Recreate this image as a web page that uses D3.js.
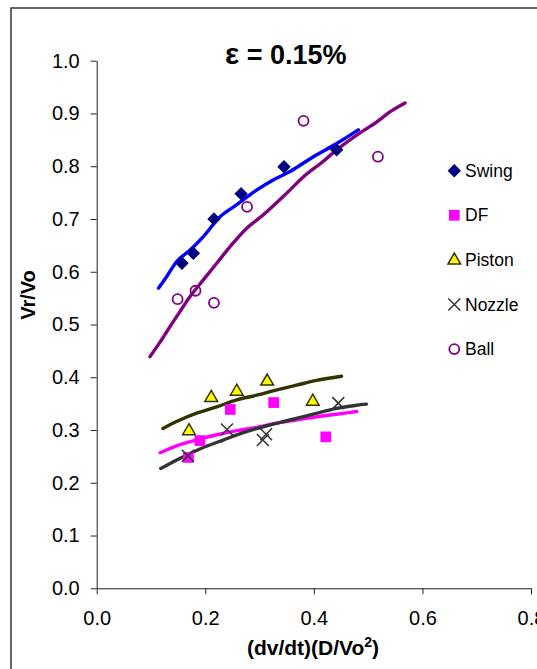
<!DOCTYPE html>
<html>
<head>
<meta charset="utf-8">
<script src="https://cdn.jsdelivr.net/npm/d3@7"></script>
<style>
  body { margin: 0; background: #fff; }
  svg { display: block; font-family: "Liberation Sans", Arial, sans-serif; }
</style>
</head>
<body>
<svg width="537" height="669"></svg>
<script>
// measured points, [x, y]
const swingPts = [[0.157, 0.616], [0.178, 0.635], [0.216, 0.700], [0.266, 0.748], [0.345, 0.799], [0.442, 0.831]];
const dfPts = [[0.169, 0.248], [0.190, 0.280], [0.246, 0.339], [0.326, 0.352], [0.422, 0.287]];
const pistonPts = [[0.170, 0.299], [0.211, 0.362], [0.258, 0.374], [0.314, 0.393], [0.398, 0.355]];
const nozzlePts = [[0.168, 0.251], [0.240, 0.301], [0.306, 0.281], [0.312, 0.292], [0.445, 0.351]];
const ballPts = [[0.149, 0.548], [0.182, 0.564], [0.216, 0.541], [0.277, 0.723], [0.381, 0.886], [0.518, 0.818]];

// trend lines
const swingLine = [[0.114, 0.569], [0.129, 0.591], [0.147, 0.619], [0.172, 0.641], [0.196, 0.666], [0.227, 0.704],
  [0.258, 0.727], [0.295, 0.755], [0.325, 0.774], [0.356, 0.790], [0.399, 0.818], [0.442, 0.843], [0.482, 0.869]];
const ballLine = [[0.098, 0.439], [0.117, 0.467], [0.135, 0.496], [0.153, 0.524], [0.172, 0.553], [0.196, 0.584],
  [0.221, 0.616], [0.246, 0.648], [0.276, 0.682], [0.307, 0.708], [0.350, 0.749], [0.381, 0.780], [0.417, 0.809],
  [0.442, 0.831], [0.479, 0.859], [0.516, 0.884], [0.540, 0.903], [0.568, 0.920]];
const pistonLine = [[0.122, 0.303], [0.147, 0.316], [0.184, 0.332], [0.221, 0.344], [0.258, 0.357], [0.295, 0.366],
  [0.332, 0.376], [0.368, 0.385], [0.405, 0.394], [0.451, 0.402]];
const dfLine = [[0.117, 0.257], [0.147, 0.270], [0.184, 0.281], [0.221, 0.291], [0.258, 0.299], [0.295, 0.305],
  [0.332, 0.313], [0.368, 0.319], [0.405, 0.325], [0.442, 0.330], [0.479, 0.335]];
const nozzleLine = [[0.118, 0.227], [0.153, 0.246], [0.190, 0.264], [0.233, 0.281], [0.270, 0.295], [0.313, 0.308],
  [0.356, 0.319], [0.399, 0.330], [0.442, 0.341], [0.479, 0.347], [0.497, 0.349]];

const xTicks = [0, 0.2, 0.4, 0.6, 0.8];
const yTicks = [0, 0.1, 0.2, 0.3, 0.4, 0.5, 0.6, 0.7, 0.8, 0.9, 1.0];
const legendNames = ["Swing", "DF", "Piston", "Nozzle", "Ball"];

const svg = d3.select("svg");

// outer frame
svg.append("rect")
  .attr("x", 11).attr("y", 8).attr("width", 700).attr("height", 800)
  .attr("fill", "none").attr("stroke", "#333").attr("stroke-width", 1.5);

const x = d3.scaleLinear().domain([0, 0.8]).range([96.7, 531]);
const y = d3.scaleLinear().domain([0, 1]).range([588.3, 60.7]);

const yAxis = svg.append("g")
  .attr("transform", "translate(96.7,0)")
  .call(d3.axisLeft(y).tickValues(yTicks).tickFormat(d3.format(".1f")).tickSize(6).tickPadding(11).tickSizeOuter(0));
const xAxis = svg.append("g")
  .attr("transform", "translate(0,588.3)")
  .call(d3.axisBottom(x).tickValues(xTicks).tickFormat(d3.format(".1f")).tickSize(6).tickPadding(17).tickSizeOuter(0));

[xAxis, yAxis].forEach(g => {
  g.select(".domain").attr("stroke", "#222");
  g.selectAll(".tick line").attr("stroke", "#222");
  g.selectAll("text").attr("font-size", 20).attr("fill", "#000")
    .attr("font-family", "'Liberation Sans', Arial, sans-serif");
});

// titles
svg.append("text").attr("x", 225).attr("y", 64)
  .attr("font-size", 27).attr("font-weight", "bold")
  .html("<tspan font-size='30'>ε</tspan> = 0.15%");
svg.append("text").attr("x", 313).attr("y", 655).attr("text-anchor", "middle")
  .attr("font-size", 21).attr("font-weight", "bold")
  .html("(dv/dt)(D/Vo<tspan font-size='14' dy='-8'>2</tspan><tspan dy='8'>)</tspan>");
svg.append("text").attr("transform", "translate(35,295) rotate(-90)").attr("text-anchor", "middle")
  .attr("font-size", 20).attr("font-weight", "bold").text("Vr/Vo");

// trend lines
const line = d3.line().x(d => x(d[0])).y(d => y(d[1])).curve(d3.curveMonotoneX);
const lines = [
  [swingLine, "#0000ff"], [ballLine, "#800080"], [pistonLine, "#333300"],
  [dfLine, "#ff00ff"], [nozzleLine, "#333333"]
];
lines.forEach(([pts, col]) => {
  svg.append("path").datum(pts).attr("d", line)
    .attr("fill", "none").attr("stroke", col).attr("stroke-width", 3.4)
    .attr("stroke-linecap", "round").attr("stroke-linejoin", "round");
});

// marker drawers
const markers = {
  Swing: g => g.append("path").attr("d", d3.symbol(d3.symbolSquare, 72)()).attr("transform", "rotate(45)")
    .attr("fill", "#000080").attr("stroke", "#000080").attr("stroke-width", 1),
  DF: g => g.append("path").attr("d", d3.symbol(d3.symbolSquare, 115)()).attr("fill", "#ff00ff"),
  Piston: g => g.append("path").attr("d", d3.symbol(d3.symbolTriangle, 70)()).attr("transform", "translate(0,0.5)")
    .attr("fill", "#ffff00").attr("stroke", "#333300").attr("stroke-width", 1.5),
  Nozzle: g => g.append("path").attr("d", "M-6,-6L6,6M-6,6L6,-6")
    .attr("fill", "none").attr("stroke", "#333333").attr("stroke-width", 1.5),
  Ball: g => g.append("circle").attr("r", 5)
    .attr("fill", "none").attr("stroke", "#800080").attr("stroke-width", 1.8)
};

const series = [["Ball", ballPts], ["Piston", pistonPts], ["DF", dfPts], ["Nozzle", nozzlePts], ["Swing", swingPts]];
series.forEach(([name, pts]) => {
  svg.append("g").selectAll("g").data(pts).join("g")
    .attr("transform", d => `translate(${x(d[0])},${y(d[1])})`)
    .each(function() { markers[name](d3.select(this)); });
});

// legend
const legend = svg.append("g");
legendNames.forEach((name, i) => {
  const row = legend.append("g").attr("transform", `translate(454.3,${170.7 + i * 44.6})`);
  markers[name](row.append("g"));
  row.append("text").attr("x", 10.7).attr("y", 6).attr("font-size", 17.5).text(name);
});
</script>
</body>
</html>
